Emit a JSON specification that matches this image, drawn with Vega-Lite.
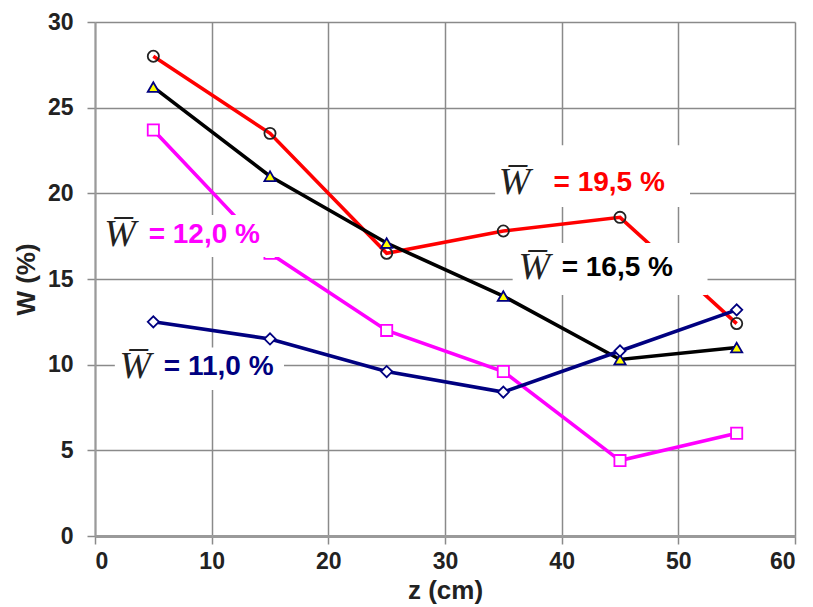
{
  "$schema": "https://vega.github.io/schema/vega-lite/v6.json",
  "width": 700,
  "height": 514,
  "autosize": "none",
  "padding": {"left": 95, "top": 22, "right": 18, "bottom": 71},
  "background": "white",
  "config": {
    "view": {"stroke": null},
    "font": "Liberation Sans"
  },
  "datasets": {
    "main": [
      {"series": "A", "z": 5, "W": 28.0},
      {"series": "A", "z": 15, "W": 23.5},
      {"series": "A", "z": 25, "W": 16.5},
      {"series": "A", "z": 35, "W": 17.8},
      {"series": "A", "z": 45, "W": 18.6},
      {"series": "A", "z": 55, "W": 12.4},
      {"series": "B", "z": 5, "W": 26.2},
      {"series": "B", "z": 15, "W": 21.0},
      {"series": "B", "z": 25, "W": 17.1},
      {"series": "B", "z": 35, "W": 14.0},
      {"series": "B", "z": 45, "W": 10.3},
      {"series": "B", "z": 55, "W": 11.0},
      {"series": "C", "z": 5, "W": 23.7},
      {"series": "C", "z": 15, "W": 16.5},
      {"series": "C", "z": 25, "W": 12.0},
      {"series": "C", "z": 35, "W": 9.6},
      {"series": "C", "z": 45, "W": 4.4},
      {"series": "C", "z": 55, "W": 6.0},
      {"series": "D", "z": 5, "W": 12.5},
      {"series": "D", "z": 15, "W": 11.5},
      {"series": "D", "z": 25, "W": 9.6},
      {"series": "D", "z": 35, "W": 8.4},
      {"series": "D", "z": 45, "W": 10.8},
      {"series": "D", "z": 55, "W": 13.2}
    ],
    "boxes": [
      {"x1": 34.3, "x2": 51.0, "y1": 22.8, "y2": 19.2},
      {"x1": 35.8, "x2": 52.5, "y1": 17.1, "y2": 14.07},
      {"x1": 0.43, "x2": 16.7, "y1": 18.74, "y2": 16.28},
      {"x1": 1.7, "x2": 16.2, "y1": 11.0, "y2": 8.52}
    ],
    "labels": [
      {"zw": 34.6, "zt": 39.3, "W": 20.6, "text": "= 19,5 %", "series": "A"},
      {"zw": 36.3, "zt": 40.0, "W": 15.64, "text": "= 16,5 %", "series": "B"},
      {"zw": 0.8, "zt": 4.6, "W": 17.57, "text": "= 12,0 %", "series": "C"},
      {"zw": 2.1, "zt": 5.9, "W": 9.86, "text": "= 11,0 %", "series": "D"}
    ]
  },
  "layer": [
    {
      "data": {"name": "main"},
      "mark": {"type": "line", "strokeWidth": 3.6},
      "encoding": {
        "x": {
          "field": "z", "type": "quantitative",
          "scale": {"domain": [0, 60]},
          "axis": {
            "values": [0, 10, 20, 30, 40, 50, 60],
            "title": "z (cm)",
            "titleFont": "Liberation Sans", "titleFontSize": 26, "titleFontWeight": "bold", "titleColor": "#222",
            "titlePadding": 4,
            "labelFont": "Liberation Sans", "labelFontSize": 23, "labelFontWeight": "bold", "labelColor": "#222",
            "labelPadding": 6,
            "grid": true, "gridColor": "#8a8a8a", "gridWidth": 1.5,
            "domainColor": "#9a9a9a", "domainWidth": 3,
            "tickColor": "#8a8a8a", "tickWidth": 1.5, "tickSize": 8
          }
        },
        "y": {
          "field": "W", "type": "quantitative",
          "scale": {"domain": [0, 30]},
          "axis": {
            "values": [0, 5, 10, 15, 20, 25, 30],
            "title": "W (%)",
            "titleFont": "Liberation Sans", "titleFontSize": 26, "titleFontWeight": "bold", "titleColor": "#222",
            "titlePadding": 8,
            "labelFont": "Liberation Sans", "labelFontSize": 23, "labelFontWeight": "bold", "labelColor": "#222",
            "labelPadding": 14,
            "grid": true, "gridColor": "#8a8a8a", "gridWidth": 1.5,
            "domainColor": "#9a9a9a", "domainWidth": 2,
            "tickColor": "#8a8a8a", "tickWidth": 1.5, "tickSize": 8
          }
        },
        "color": {
          "field": "series", "type": "nominal",
          "scale": {"domain": ["A", "B", "C", "D"], "range": ["#ff0000", "#000000", "#ff00ff", "#000080"]},
          "legend": null
        }
      }
    },
    {
      "data": {"name": "main"},
      "mark": {"type": "point", "filled": false, "strokeWidth": 1.8, "size": 125, "opacity": 1},
      "encoding": {
        "x": {"field": "z", "type": "quantitative"},
        "y": {"field": "W", "type": "quantitative"},
        "shape": {
          "field": "series", "type": "nominal",
          "scale": {"domain": ["A", "B", "C", "D"], "range": ["circle", "triangle-up", "square", "diamond"]},
          "legend": null
        },
        "stroke": {
          "field": "series", "type": "nominal",
          "scale": {"domain": ["A", "B", "C", "D"], "range": ["#222222", "#000080", "#ff00ff", "#000080"]},
          "legend": null
        },
        "fill": {
          "field": "series", "type": "nominal",
          "scale": {"domain": ["A", "B", "C", "D"], "range": ["transparent", "#ffff00", "#ffffff", "#ffffff"]},
          "legend": null
        }
      }
    },
    {
      "data": {"name": "boxes"},
      "mark": {"type": "rect", "fill": "white"},
      "encoding": {
        "x": {"field": "x1", "type": "quantitative"},
        "x2": {"field": "x2"},
        "y": {"field": "y1", "type": "quantitative"},
        "y2": {"field": "y2"}
      }
    },
    {
      "data": {"name": "labels"},
      "mark": {"type": "text", "align": "left", "baseline": "middle", "font": "Liberation Serif", "fontStyle": "italic", "fontSize": 38, "color": "#222"},
      "encoding": {
        "x": {"field": "zw", "type": "quantitative"},
        "y": {"field": "W", "type": "quantitative"},
        "text": {"value": "W̅"}
      }
    },
    {
      "data": {"name": "labels"},
      "mark": {"type": "text", "align": "left", "baseline": "middle", "font": "Liberation Sans", "fontWeight": "bold", "fontSize": 28},
      "encoding": {
        "x": {"field": "zt", "type": "quantitative"},
        "y": {"field": "W", "type": "quantitative"},
        "text": {"field": "text"},
        "color": {
          "field": "series", "type": "nominal",
          "scale": {"domain": ["A", "B", "C", "D"], "range": ["#ff0000", "#000000", "#ff00ff", "#000080"]},
          "legend": null
        }
      }
    }
  ]
}
